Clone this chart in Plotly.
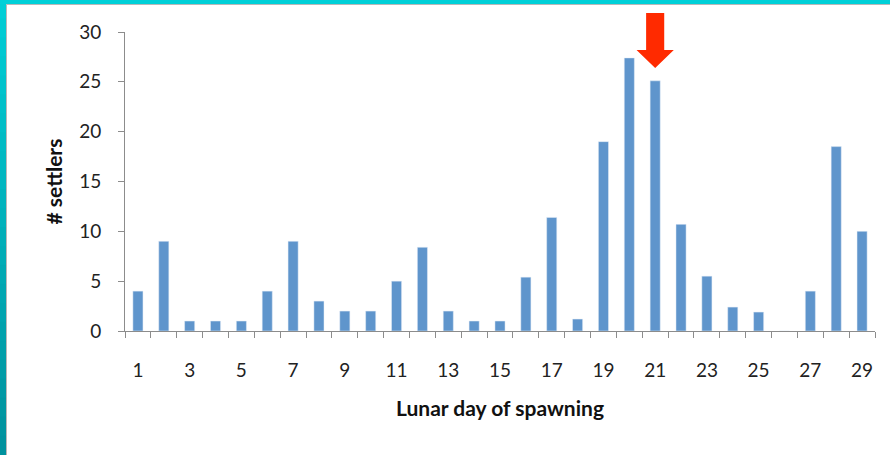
import plotly.graph_objects as go

# Lunar day of spawning vs number of settlers
days = [1, 2, 3, 4, 5, 6, 7, 8, 9, 10, 11, 12, 13, 14, 15,
        16, 17, 18, 19, 20, 21, 22, 23, 24, 25, 26, 27, 28, 29]
settlers = [4, 9, 1, 1, 1, 4, 9, 3, 2, 2, 5, 8.4, 2, 1, 1,
            5.4, 11.4, 1.2, 19, 27.4, 25.1, 10.7, 5.5, 2.4, 1.9, 0, 4, 18.5, 10]
x_ticks = [1, 3, 5, 7, 9, 11, 13, 15, 17, 19, 21, 23, 25, 27, 29]
y_ticks = [0, 5, 10, 15, 20, 25, 30]
highlight_day = 21

W, H = 890, 455
ML, MR, MT, MB = 125, 15, 32, 124
PW, PH = W - ML - MR, H - MT - MB

BAR = "#5f95cc"
AXIS = "#8c8c8c"
FONT = "Lato, 'Open Sans', sans-serif"


def px_x(p):
    return (p - ML) / PW


def px_y(p):
    return (H - MB - p) / PH


fig = go.Figure()
fig.add_trace(go.Bar(x=days, y=settlers, marker_color=BAR, width=0.39,
                     hoverinfo="x+y"))

shapes = []
# teal slide frame (top and left), left one shading darker downwards
top_c, bot_c = (0, 206, 214), (0, 146, 158)
n = 24
for i in range(n):
    t = i / (n - 1)
    c = tuple(int(top_c[k] + (bot_c[k] - top_c[k]) * t) for k in range(3))
    shapes.append(dict(type="rect", xref="paper", yref="paper",
                       x0=px_x(0), x1=px_x(6),
                       y0=px_y(H * (i + 1) / n + 1.5), y1=px_y(H * i / n),
                       fillcolor="rgb(%d,%d,%d)" % c,
                       line=dict(width=1, color="rgb(%d,%d,%d)" % c), layer="below"))
shapes.append(dict(type="rect", xref="paper", yref="paper",
                   x0=px_x(0), x1=px_x(W), y0=px_y(4), y1=px_y(0),
                   fillcolor="#00d0d8", line_width=0, layer="below"))
shapes.append(dict(type="line", xref="paper", yref="paper",
                   x0=px_x(6.5), x1=px_x(W), y0=px_y(4.5), y1=px_y(4.5),
                   line=dict(color="#b8b8b8", width=1), layer="below"))
shapes.append(dict(type="line", xref="paper", yref="paper",
                   x0=px_x(6.5), x1=px_x(6.5), y0=px_y(H), y1=px_y(4.5),
                   line=dict(color="#b8b8b8", width=1), layer="below"))

# red block arrow above the day-21 bar
hx = highlight_day
path = "M {a},{t} L {b},{t} L {b},{hb} L {c},{hb} L {x},{tip} L {d},{hb} L {a2},{hb} Z".format(
    a=hx - 0.35, b=hx + 0.35, t=px_y(13), hb=px_y(50), c=hx + 0.72,
    x=hx, tip=px_y(68), d=hx - 0.72, a2=hx - 0.35)
shapes.append(dict(type="path", xref="x", yref="paper", path=path,
                   fillcolor="#ff2a00", line_width=0))

fig.update_layout(
    width=W, height=H,
    margin=dict(l=ML, r=MR, t=MT, b=MB, pad=0),
    paper_bgcolor="white", plot_bgcolor="white",
    font=dict(family=FONT, size=19, color="#222222"),
    showlegend=False,
    bargap=0.6,
    shapes=shapes,
    xaxis=dict(
        range=[0.5, 29.5], tickvals=x_ticks, ticks="", showgrid=False,
        zeroline=False, showline=True, linecolor=AXIS, linewidth=1,
        ticklabelstandoff=22,
        minor=dict(tickvals=[d - 0.5 for d in days] + [29.5], ticks="outside",
                   ticklen=6, tickcolor=AXIS, tickwidth=1, showgrid=False),
        title=dict(text="<b>Lunar day of spawning</b>", standoff=21,
                   font=dict(size=21, color="#111111")),
    ),
    yaxis=dict(
        range=[0, 30], tickvals=y_ticks, ticks="outside", ticklen=6,
        tickcolor=AXIS, showgrid=False, zeroline=False, showline=True,
        linecolor=AXIS, linewidth=1, ticklabelstandoff=13,
        title=dict(text="<b># settlers</b>", standoff=10,
                   font=dict(size=21, color="#111111")),
    ),
)

fig.write_html("out.html", config={"displayModeBar": False},
               post_script="document.body.style.margin='0';")
